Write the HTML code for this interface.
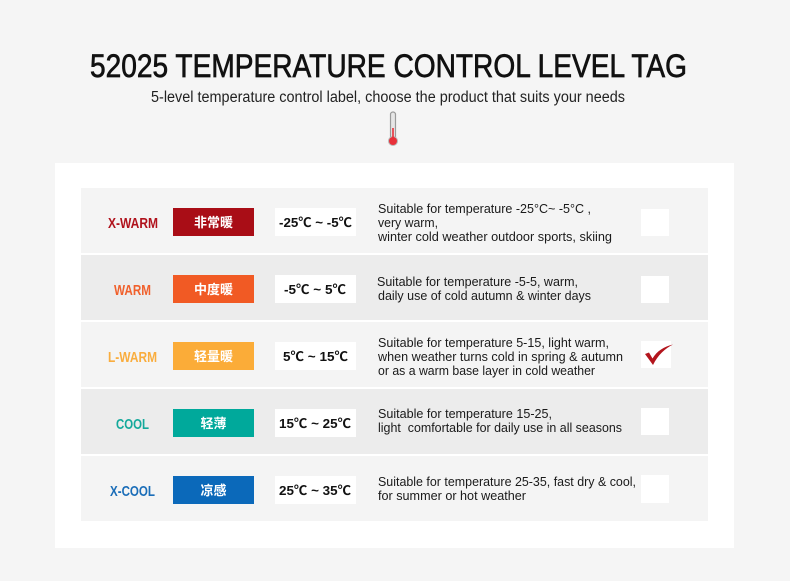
<!DOCTYPE html>
<html>
<head>
<meta charset="utf-8">
<style>
html,body{margin:0;padding:0;background:#f5f5f5;}
body{width:790px;height:581px;overflow:hidden;}
svg{display:block;}
text{font-family:"Liberation Sans","Noto Sans CJK SC",sans-serif;}
.cn{font-family:"Liberation Sans","Noto Sans CJK SC",sans-serif;font-weight:bold;font-size:13px;fill:#fff;}
.lab{font-weight:bold;font-size:14.5px;}
.tmp{font-weight:bold;font-size:13px;fill:#111;}
.d{font-size:12.5px;fill:#1a1a1a;}
</style>
</head>
<body>
<svg width="790" height="581" viewBox="0 0 790 581" xmlns="http://www.w3.org/2000/svg">
  <rect x="0" y="0" width="790" height="581" fill="#f5f5f5"/>
  <!-- Title -->
  <text x="90" y="77" font-size="32" fill="#111" stroke="#111" stroke-width="0.7" textLength="597" lengthAdjust="spacingAndGlyphs">52025 TEMPERATURE CONTROL LEVEL TAG</text>
  <text x="151" y="102" font-size="15.5" fill="#222" textLength="474" lengthAdjust="spacingAndGlyphs">5-level temperature control label, choose the product that suits your needs</text>
  <!-- Thermometer -->
  <rect x="390.5" y="112" width="5" height="27" rx="2.5" fill="#e6e6e6" stroke="#9a9a9a" stroke-width="1.2"/>
  <circle cx="393" cy="141" r="4.5" fill="#e8313a" stroke="#b8b8b8" stroke-width="1"/>
  <rect x="392.2" y="128" width="1.6" height="10" fill="#e8313a"/>

  <!-- Panel -->
  <rect x="55" y="163" width="679" height="385" fill="#ffffff"/>

  <!-- Rows -->
  <rect x="81" y="188" width="627" height="65" fill="#f4f4f4"/>
  <rect x="81" y="255" width="627" height="65" fill="#ececec"/>
  <rect x="81" y="322" width="627" height="65" fill="#f4f4f4"/>
  <rect x="81" y="389" width="627" height="65" fill="#ececec"/>
  <rect x="81" y="456" width="627" height="65" fill="#f4f4f4"/>

  <!-- Row 1 -->
  <text class="lab" x="108" y="228" fill="#b0121c" textLength="50" lengthAdjust="spacingAndGlyphs">X-WARM</text>
  <rect x="173" y="208" width="81" height="28" fill="#a90d16"/>
  <text class="cn" x="213.5" y="227" text-anchor="middle">非常暖</text>
  <rect x="275" y="208" width="81" height="28" fill="#ffffff"/>
  <text class="tmp" x="279" y="227" textLength="73" lengthAdjust="spacingAndGlyphs">-25℃ ~ -5℃</text>
  <text class="d" x="378" y="213" textLength="213" lengthAdjust="spacingAndGlyphs">Suitable for temperature -25°C~ -5°C ,</text>
  <text class="d" x="378" y="227" textLength="60" lengthAdjust="spacingAndGlyphs">very warm,</text>
  <text class="d" x="378" y="241" textLength="234" lengthAdjust="spacingAndGlyphs">winter cold weather outdoor sports, skiing</text>
  <rect x="641" y="209" width="28" height="27" fill="#ffffff"/>

  <!-- Row 2 -->
  <text class="lab" x="114" y="295" fill="#f0602c" textLength="37" lengthAdjust="spacingAndGlyphs">WARM</text>
  <rect x="173" y="275" width="81" height="28" fill="#f15a24"/>
  <text class="cn" x="213.5" y="294" text-anchor="middle">中度暖</text>
  <rect x="275" y="275" width="81" height="28" fill="#ffffff"/>
  <text class="tmp" x="284" y="294" textLength="62" lengthAdjust="spacingAndGlyphs">-5℃ ~ 5℃</text>
  <text class="d" x="377" y="286" textLength="201" lengthAdjust="spacingAndGlyphs">Suitable for temperature -5-5, warm,</text>
  <text class="d" x="378" y="300" textLength="213" lengthAdjust="spacingAndGlyphs">daily use of cold autumn &amp; winter days</text>
  <rect x="641" y="276" width="28" height="27" fill="#ffffff"/>

  <!-- Row 3 -->
  <text class="lab" x="108" y="362" fill="#f9ad3e" textLength="49" lengthAdjust="spacingAndGlyphs">L-WARM</text>
  <rect x="173" y="342" width="81" height="28" fill="#fbac38"/>
  <text class="cn" x="213.5" y="361" text-anchor="middle">轻量暖</text>
  <rect x="275" y="342" width="81" height="28" fill="#ffffff"/>
  <text class="tmp" x="283" y="361" textLength="65" lengthAdjust="spacingAndGlyphs">5℃ ~ 15℃</text>
  <text class="d" x="378" y="347" textLength="231" lengthAdjust="spacingAndGlyphs">Suitable for temperature 5-15, light warm,</text>
  <text class="d" x="378" y="361" textLength="245" lengthAdjust="spacingAndGlyphs">when weather turns cold in spring &amp; autumn</text>
  <text class="d" x="378" y="375" textLength="217" lengthAdjust="spacingAndGlyphs">or as a warm base layer in cold weather</text>
  <rect x="641" y="341" width="30" height="27" fill="#ffffff"/>
  <path d="M645 354 L649 352.5 L652.5 358.5 C657 351 664 346.5 673 344.5 C665 348.5 658 355 653 365 Z" fill="#b3151d"/>

  <!-- Row 4 -->
  <text class="lab" x="116" y="429" fill="#13a99b" textLength="33" lengthAdjust="spacingAndGlyphs">COOL</text>
  <rect x="173" y="409" width="81" height="28" fill="#00a99b"/>
  <text class="cn" x="213.5" y="428" text-anchor="middle">轻薄</text>
  <rect x="275" y="409" width="81" height="28" fill="#ffffff"/>
  <text class="tmp" x="279" y="428" textLength="72" lengthAdjust="spacingAndGlyphs">15℃ ~ 25℃</text>
  <text class="d" x="378" y="418" textLength="174" lengthAdjust="spacingAndGlyphs">Suitable for temperature 15-25,</text>
  <text class="d" x="378" y="432" textLength="244" lengthAdjust="spacingAndGlyphs" xml:space="preserve">light  comfortable for daily use in all seasons</text>
  <rect x="641" y="408" width="28" height="27" fill="#ffffff"/>

  <!-- Row 5 -->
  <text class="lab" x="110" y="496" fill="#1a6db8" textLength="45" lengthAdjust="spacingAndGlyphs">X-COOL</text>
  <rect x="173" y="476" width="81" height="28" fill="#0b69ba"/>
  <text class="cn" x="213.5" y="495" text-anchor="middle">凉感</text>
  <rect x="275" y="476" width="81" height="28" fill="#ffffff"/>
  <text class="tmp" x="279" y="495" textLength="72" lengthAdjust="spacingAndGlyphs">25℃ ~ 35℃</text>
  <text class="d" x="378" y="486" textLength="258" lengthAdjust="spacingAndGlyphs">Suitable for temperature 25-35, fast dry &amp; cool,</text>
  <text class="d" x="378" y="500" textLength="148" lengthAdjust="spacingAndGlyphs">for summer or hot weather</text>
  <rect x="641" y="475" width="28" height="28" fill="#ffffff"/>
</svg>
</body>
</html>
